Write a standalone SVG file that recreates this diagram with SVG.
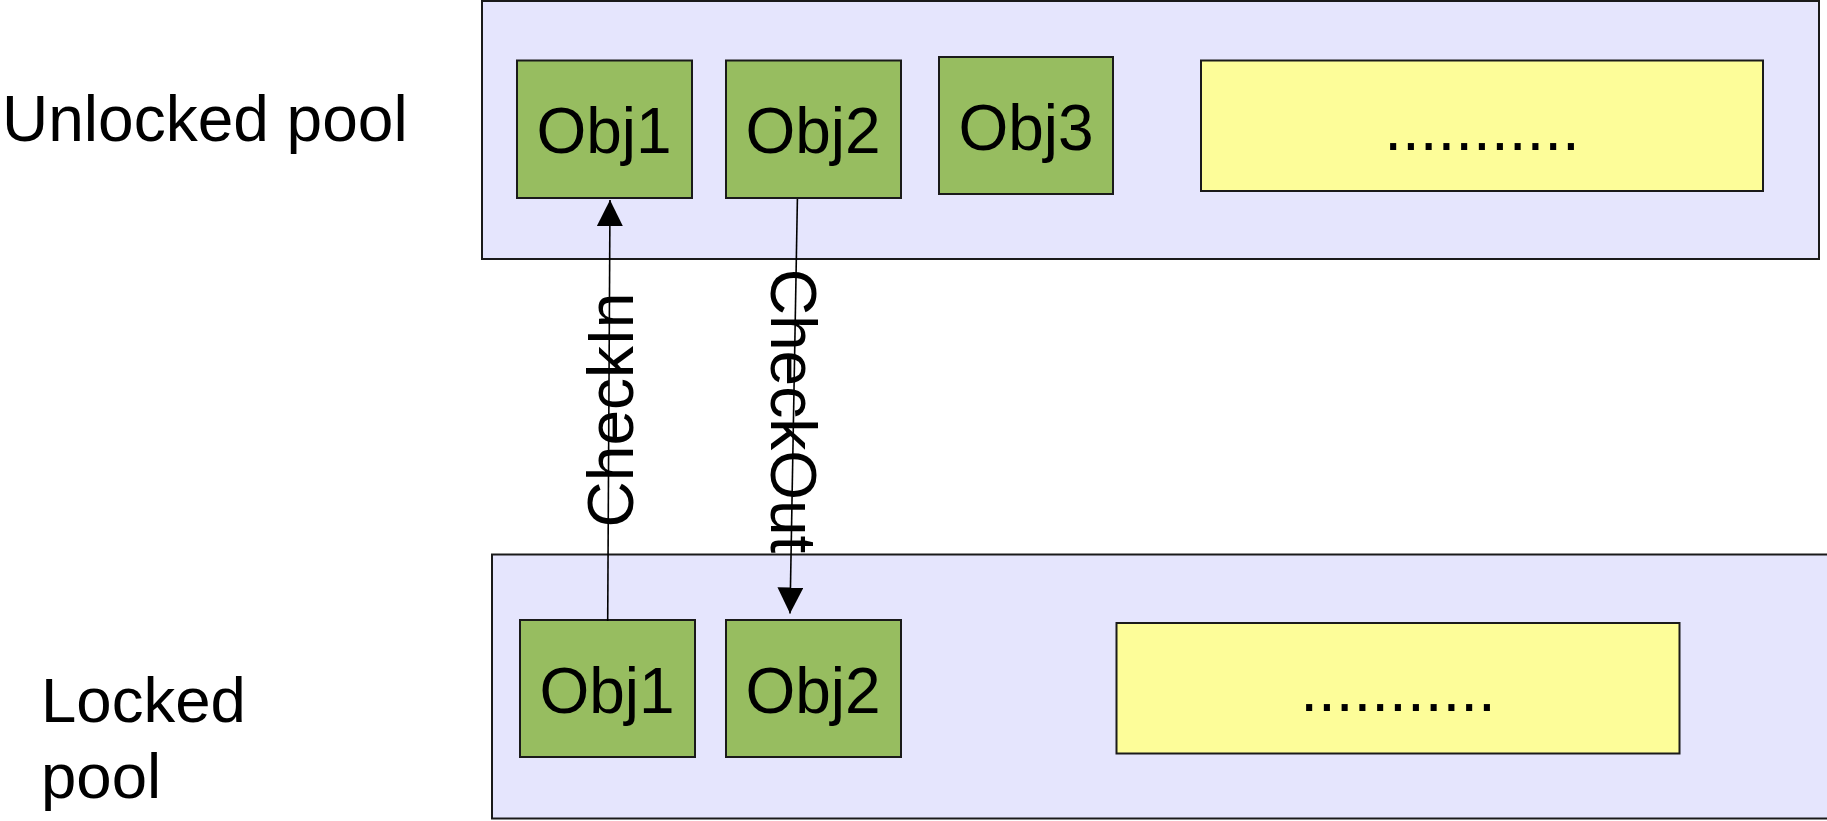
<svg xmlns="http://www.w3.org/2000/svg" width="1827" height="821" viewBox="0 0 1827 821">
<style>
.pool{fill:#E5E5FD;stroke:#1a1a1a;stroke-width:2}
.obj{fill:#97BD60;stroke:#1a1a1a;stroke-width:2}
.more{fill:#FDFD99;stroke:#1a1a1a;stroke-width:2}
text{font-family:"Liberation Sans",Arial,sans-serif;fill:#000}
.lbl{font-size:64px;text-anchor:middle}
.side{font-size:64px}
.side2{font-size:63.5px}
.edge{stroke:#000;stroke-width:1.6;fill:none}
</style>
<defs>
<marker id="arr" markerUnits="userSpaceOnUse" markerWidth="28" markerHeight="28" refX="26" refY="13" orient="auto">
<path d="M0,0 L26,13 L0,26 z" fill="#000"/>
</marker>
</defs>
<g id="unlocked-pool">
<rect class="pool" x="482" y="1" width="1337" height="258"/>
</g>
<g id="locked-pool">
<rect class="pool" x="492" y="554.5" width="1350" height="264"/>
</g>
<g id="label-unlocked"><text class="side" x="2" y="141">Unlocked pool</text></g>
<g id="label-locked"><text class="side2" x="41" y="722">Locked</text><text class="side2" x="41" y="798">pool</text></g>
<g id="u-obj1"><rect class="obj" x="517" y="60.5" width="175" height="137.5"/><text class="lbl" x="604" y="153">Obj1</text></g>
<g id="u-obj2"><rect class="obj" x="726" y="60.5" width="175" height="137.5"/><text class="lbl" x="813" y="153">Obj2</text></g>
<g id="u-obj3"><rect class="obj" x="939" y="57" width="174" height="137"/><text class="lbl" x="1026" y="149.5">Obj3</text></g>
<g id="u-more"><rect class="more" x="1201" y="60.5" width="562" height="130.5"/><text class="lbl" x="1482" y="149.5">...........</text></g>
<g id="l-obj1"><rect class="obj" x="520" y="620" width="175" height="137"/><text class="lbl" x="607" y="713">Obj1</text></g>
<g id="l-obj2"><rect class="obj" x="726" y="620" width="175" height="137"/><text class="lbl" x="813" y="713">Obj2</text></g>
<g id="l-more"><rect class="more" x="1116.5" y="623" width="563" height="130.5"/><text class="lbl" x="1398" y="711">...........</text></g>
<g id="connectors">
<line class="edge" x1="607.7" y1="621" x2="610" y2="200" marker-end="url(#arr)"/>
<line class="edge" x1="797.4" y1="199" x2="790" y2="613.5" marker-end="url(#arr)"/>
<text class="lbl" transform="translate(633,410) rotate(-90)">CheckIn</text>
<text class="lbl" transform="translate(771,411) rotate(90)">CheckOut</text>
</g>
</svg>
